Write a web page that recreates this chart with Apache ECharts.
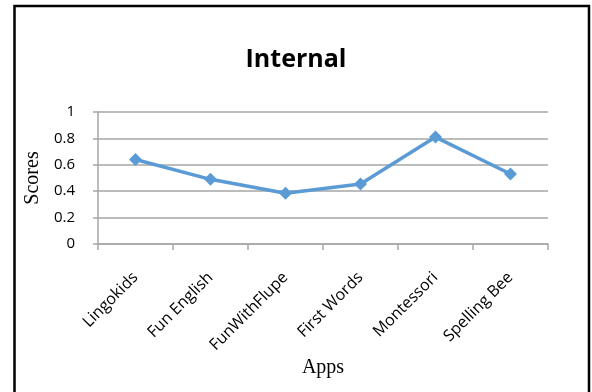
<!DOCTYPE html>
<html>
<head>
<meta charset="utf-8">
<script src="https://cdn.jsdelivr.net/npm/echarts@6/dist/echarts.min.js"></script>
<style>
html,body{margin:0;padding:0;background:#fff;}
#chart{width:592px;height:392px;}
</style>
</head>
<body>
<div id="chart"></div>
<script>
const categories = ["Lingokids", "Fun English", "FunWithFlupe", "First Words", "Montessori", "Spelling Bee"];
const scores = [0.64, 0.49, 0.385, 0.455, 0.81, 0.53];
const yTicks = [0, 0.2, 0.4, 0.6, 0.8, 1];

const chart = echarts.init(document.getElementById('chart'), null, {renderer: 'canvas'});
chart.setOption({
  animation: false,
  backgroundColor: '#ffffff',
  title: {
    text: 'Internal',
    left: 'center',
    top: 42,
    textStyle: {fontFamily: 'Open Sans', fontWeight: 'bold', fontSize: 25, color: '#000'}
  },
  graphic: [{
    type: 'rect',
    shape: {x: 14.5, y: 6, width: 574.5, height: 420},
    style: {fill: 'none', stroke: '#000', lineWidth: 2.5},
    silent: true
  }],
  grid: {left: 98, right: 44, top: 112, bottom: 148},
  xAxis: {
    type: 'category',
    data: categories,
    boundaryGap: true,
    name: 'Apps',
    nameLocation: 'middle',
    nameGap: 114,
    nameTextStyle: {fontFamily: 'Liberation Serif', fontSize: 20, color: '#000'},
    axisLine: {lineStyle: {color: '#a6a6a6', width: 1.5}},
    axisTick: {show: true, length: 6, alignWithLabel: false, lineStyle: {color: '#a6a6a6', width: 1.5}},
    axisLabel: {rotate: 45, fontFamily: 'Open Sans', fontSize: 16, color: '#000', margin: 31, interval: 0}
  },
  yAxis: {
    type: 'value',
    min: 0, max: 1, interval: 0.2,
    name: 'Scores',
    nameLocation: 'middle',
    nameGap: 46,
    nameRotate: 90,
    nameTextStyle: {fontFamily: 'Liberation Serif', fontSize: 20, color: '#000'},
    axisLine: {show: true, lineStyle: {color: '#a6a6a6', width: 1.5}},
    axisTick: {show: true, length: 5, lineStyle: {color: '#a6a6a6', width: 1.5}},
    axisLabel: {fontFamily: 'Open Sans', fontSize: 15, color: '#000', margin: 23,
      formatter: function (v) { return yTicks.indexOf(v) >= 0 ? String(v) : ''; }},
    splitLine: {show: true, lineStyle: {color: '#a6a6a6', width: 1.5}}
  },
  series: [{
    type: 'line',
    data: scores,
    symbol: 'diamond',
    symbolSize: 13,
    lineStyle: {color: '#5b9bd5', width: 3.5},
    itemStyle: {color: '#5b9bd5'}
  }]
});
</script>
</body>
</html>
